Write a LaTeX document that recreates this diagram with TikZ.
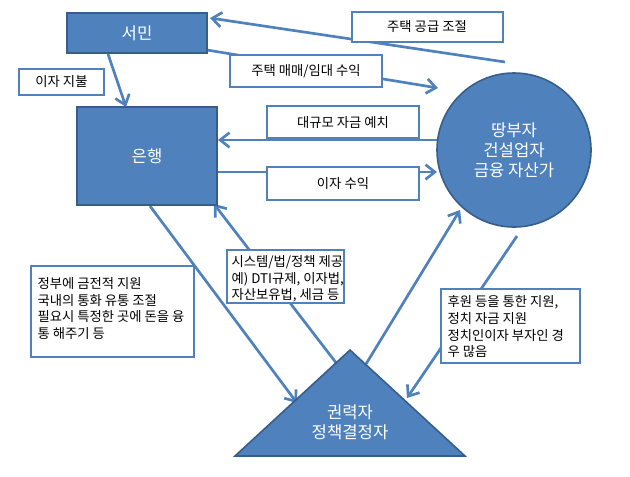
\documentclass[tikz,border=0pt]{standalone}
\usepackage{fontspec}
\setmainfont{Noto Sans CJK KR}
\usetikzlibrary{arrows.meta}
\definecolor{fillb}{HTML}{4F81BD}
\definecolor{edgeb}{HTML}{385D8A}
\begin{document}
\begin{tikzpicture}[x=0.75pt,y=-0.75pt,
  shp/.style={fill=fillb,draw=edgeb,line width=1.2pt,text=white,font=\fontsize{12.5}{14}\selectfont,align=center},
  lbl/.style={draw=fillb,fill=white,line width=1.2pt},
  con/.style={draw=fillb,line width=2pt,-{Straight Barb[length=7pt,width=11pt,line width=2pt]}}]
\useasboundingbox (0,0) rectangle (630,476);
\fill[white] (0,0) rectangle (630,476);
\coordinate (c1) at (505,62);
\coordinate (s1) at (210,18);
\coordinate (s2) at (207,50);
\coordinate (k1) at (438,88);
\coordinate (s3) at (108,54);
\coordinate (b1) at (126,107);
\coordinate (k2) at (437,140);
\coordinate (b2) at (218,140);
\coordinate (b3) at (218,172);
\coordinate (k3) at (437,172);
\coordinate (b4) at (150,206);
\coordinate (t1) at (297,403);
\coordinate (t2) at (337,364);
\coordinate (b5) at (214,204);
\coordinate (t3) at (366,364);
\coordinate (k4) at (460,210);
\coordinate (k5) at (517,236);
\coordinate (t4) at (407,398);
\draw[con] (c1) -- (s1);
\draw[con] (s2) -- (k1);
\draw[con] (s3) -- (b1);
\draw[con] (k2) -- (b2);
\draw[con] (b3) -- (k3);
\draw[con] (b4) -- (t1);
\draw[con] (t2) -- (b5);
\draw[con] (t3) -- (k4);
\draw[con] (k5) -- (t4);
\draw[shp] (67,13) rectangle (207,53) node[midway] (seomin) {서민};
\draw[shp] (77,107) rectangle (217,205) node[midway] (bank) {은행};
\draw[shp] (514,150) circle[radius=77];
\node[text=white,font=\fontsize{12.5}{15}\selectfont,align=center] (land) at (514,150) {땅부자\\건설업자\\금융 자산가};
\draw[shp] (350,350) -- (465,456) -- (235,456) -- cycle;
\node[text=white,font=\fontsize{12.5}{15}\selectfont,align=center] (power) at (350,422) {권력자\\정책결정자};
\tikzset{lt/.style={font=\fontsize{10}{12.5}\selectfont,align=left}}
\draw[lbl] (352,12) rectangle (503,42);
\node[lt] (l1) at (427,27) {주택 공급 조절};
\draw[lbl] (230,55) rectangle (382,87);
\node[lt] (l2) at (306,71) {주택 매매/임대 수익};
\draw[lbl] (19,69) rectangle (104,95);
\node[lt] (l3) at (61.5,82) {이자 지불};
\draw[lbl] (267,106) rectangle (419,138);
\node[lt] (l4) at (343,122) {대규모 자금 예치};
\draw[lbl] (267,167) rectangle (419,200);
\node[lt] (l5) at (343,184) {이자 수익};
\draw[lbl] (227,250) rectangle (344,303);
\node[lt,anchor=north west,inner sep=1pt] (l6) at (230,254) {시스템/법/정책 제공\\예) DTI규제, 이자법,\\자산보유법, 세금 등};
\draw[lbl] (31,266) rectangle (194,357);
\node[lt,anchor=north west,inner sep=1pt] (l7) at (36,276) {정부에 금전적 지원\\국내의 통화 유통 조절\\필요시 특정한 곳에 돈을 융\\통 해주기 등};
\draw[lbl] (441,289) rectangle (580,363);
\node[lt,anchor=north west,inner sep=1pt] (l8) at (446,294) {후원 등을 통한 지원,\\정치 자금 지원\\정치인이자 부자인 경\\우 많음};
\end{tikzpicture}
\end{document}
